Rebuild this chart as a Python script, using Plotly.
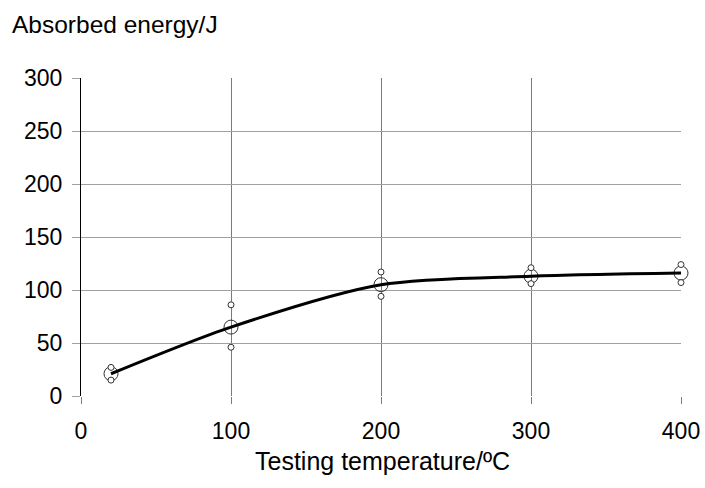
import plotly.graph_objects as go

temperature = [20, 100, 200, 300, 400]
energy_mean = [21, 65, 105, 113, 116]
energy_max = [27, 86, 117, 121, 124]
energy_min = [15, 46, 94, 106, 107]

x_ticks = [0, 100, 200, 300, 400]
y_ticks = [0, 50, 100, 150, 200, 250, 300]

FONT = "Liberation Sans, Arial, sans-serif"

fig = go.Figure()

# mean markers (large open circles)
fig.add_trace(go.Scatter(
    x=temperature, y=energy_mean, mode="markers",
    marker=dict(symbol="circle-open", size=14, color="#333333", line=dict(width=1)),
    cliponaxis=False, showlegend=False))

# smoothed line through means
fig.add_trace(go.Scatter(
    x=temperature, y=energy_mean, mode="lines",
    line=dict(color="black", width=3, shape="spline", smoothing=0.8),
    cliponaxis=False, showlegend=False))

# min / max markers (small circles)
fig.add_trace(go.Scatter(
    x=temperature + temperature, y=energy_max + energy_min, mode="markers",
    marker=dict(symbol="circle", size=6, color="white", line=dict(width=1, color="#333333")),
    cliponaxis=False, showlegend=False))

fig.update_layout(
    width=705, height=488, autosize=False,
    margin=dict(l=81, r=24, t=78, b=92),
    paper_bgcolor="white", plot_bgcolor="white",
    font=dict(family=FONT, color="black", size=22),
    xaxis=dict(
        range=[0, 400], tickvals=x_ticks, ticktext=[str(v) for v in x_ticks],
        showgrid=True, gridcolor="#7a7a7a", gridwidth=1,
        zeroline=False, showline=False, automargin=False,
        ticks="outside", ticklen=7, tickcolor="#7a7a7a",
        ticklabelstandoff=7,
        tickfont=dict(size=23, family=FONT, color="black"),
    ),
    yaxis=dict(
        range=[0, 300], tickvals=y_ticks, ticktext=[str(v) for v in y_ticks],
        showgrid=True, gridcolor="#a0a0a0", gridwidth=1,
        zeroline=False, showline=True, linecolor="black", linewidth=1,
        automargin=False,
        ticks="outside", ticklen=8, tickcolor="#a0a0a0",
        ticklabelstandoff=5,
        tickfont=dict(size=23, family=FONT, color="black"),
    ),
    annotations=[
        dict(text="Absorbed energy/J", xref="paper", yref="paper",
             x=(10 - 81) / 600, y=1 + (78 - 25) / 318,
             xanchor="left", yanchor="middle", showarrow=False,
             font=dict(size=24.5, family=FONT, color="black")),
        dict(text="Testing temperature/ºC", xref="paper", yref="paper",
             x=(382 - 81) / 600, y=-(461 - 396) / 318,
             xanchor="center", yanchor="middle", showarrow=False,
             font=dict(size=25, family=FONT, color="black")),
    ],
)

fig.write_html("out.html")
